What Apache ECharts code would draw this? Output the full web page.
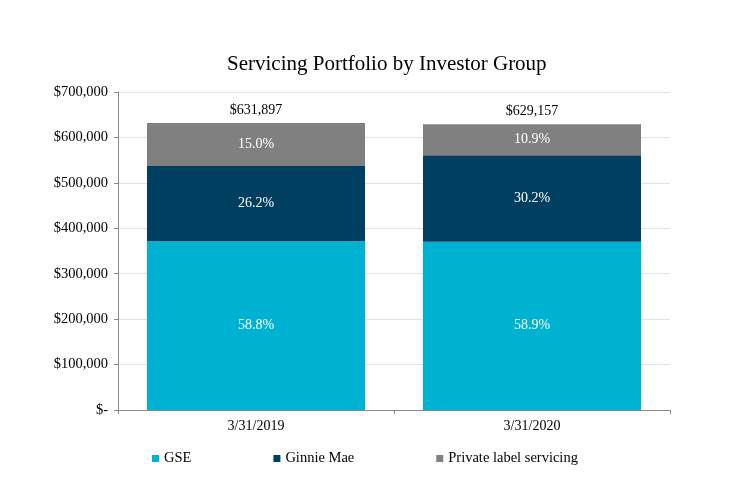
<!DOCTYPE html>
<html><head><meta charset="utf-8">
<script src="https://cdn.jsdelivr.net/npm/echarts@6/dist/echarts.min.js"></script>
<style>html,body{margin:0;padding:0;background:#fff}#c{width:751px;height:499px}</style>
</head><body><div id="c"></div>
<script>
var categories = ['3/31/2019', '3/31/2020'];
var gse = [371555, 370573];
var ginnieMae = [165557, 190005];
var privateLabel = [94785, 68579];
var totals = [631897, 629157];
var yTicks = [0, 100000, 200000, 300000, 400000, 500000, 600000, 700000];

var font = '"Liberation Serif", "Times New Roman", serif';
function pct(idx, v) { return (v / totals[idx] * 100).toFixed(1) + '%'; }
function money(v) { return v === 0 ? '$-' : '$' + v.toLocaleString('en-US'); }

var chart = echarts.init(document.getElementById('c'));
chart.setOption({
  animation: false,
  textStyle: { fontFamily: font },
  title: { text: 'Servicing Portfolio by Investor Group', left: 222, top: 49,
    textStyle: { fontFamily: font, fontSize: 21, fontWeight: 'normal', color: '#000' } },
  legend: { data: ['GSE', 'Ginnie Mae', 'Private label servicing'], left: 147, top: 446,
    itemWidth: 7, itemHeight: 7, itemGap: 82, icon: 'rect',
    textStyle: { fontFamily: font, fontSize: 14.5, color: '#000' } },
  grid: { left: 118, right: 81, top: 92, bottom: 89 },
  xAxis: { type: 'category', data: categories,
    axisLine: { lineStyle: { color: '#898989' } },
    axisTick: { show: true, alignWithLabel: false, length: 4, lineStyle: { color: '#898989' } },
    axisLabel: { fontFamily: font, fontSize: 14, color: '#000', margin: 9 } },
  yAxis: { type: 'value', min: 0, max: 700000, interval: 100000,
    axisLine: { show: true, lineStyle: { color: '#898989' } },
    axisTick: { show: true, inside: false, length: 4, lineStyle: { color: '#898989' } },
    splitLine: { lineStyle: { color: '#e3e3e3' } },
    axisLabel: { fontFamily: font, fontSize: 14.5, color: '#000', margin: 10,
      formatter: function (v) { return money(v); } } },
  series: [
    { name: 'GSE', type: 'bar', stack: 's', data: gse, barCategoryGap: '21%',
      itemStyle: { color: '#00B2D2' },
      label: { show: true, position: 'inside', color: '#fff', fontFamily: font, fontSize: 14,
        formatter: function (p) { return pct(p.dataIndex, p.value); } } },
    { name: 'Ginnie Mae', type: 'bar', stack: 's', data: ginnieMae,
      itemStyle: { color: '#003F5F' },
      label: { show: true, position: 'inside', color: '#fff', fontFamily: font, fontSize: 14,
        formatter: function (p) { return pct(p.dataIndex, p.value); } } },
    { name: 'Private label servicing', type: 'bar', stack: 's', data: privateLabel,
      itemStyle: { color: '#808080' },
      label: { show: true, position: 'inside', color: '#fff', fontFamily: font, fontSize: 14,
        formatter: function (p) { return pct(p.dataIndex, p.value); } } },
    { name: 'Total', type: 'bar', stack: 's', data: totals.map(function () { return 0; }),
      itemStyle: { color: 'transparent' }, silent: true,
      label: { show: true, position: 'top', distance: 6, color: '#000', fontFamily: font, fontSize: 14,
        formatter: function (p) { return money(totals[p.dataIndex]); } } }
  ]
});
</script></body></html>
